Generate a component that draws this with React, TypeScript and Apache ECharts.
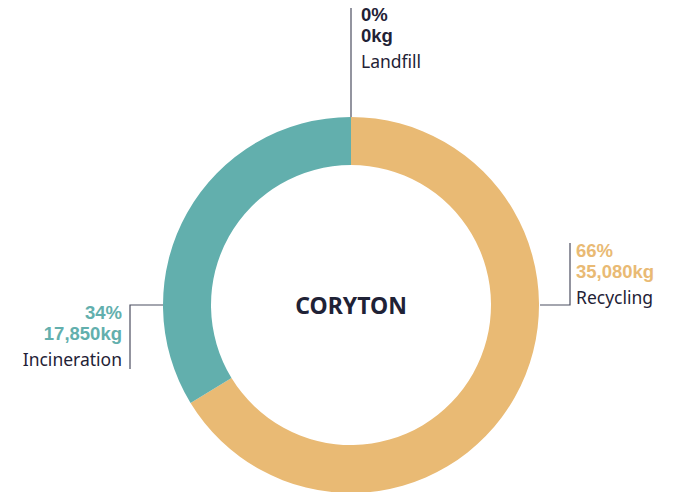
import React, { useEffect, useRef } from "react";
import * as echarts from "echarts";

const categories = ["Landfill", "Recycling", "Incineration"];
const valuesKg = [0, 35080, 17850];
const colors = ["#E9BA74", "#E9BA74", "#62AFAD"];
const centerTitle = "CORYTON";

const TEXT = "#1F2236";
const LINE = "#4B4E60";
const FONT = "Noto Sans";
const NUM_FONT = "Liberation Sans";

export default function App() {
  const ref = useRef<HTMLDivElement>(null);
  useEffect(() => {
    document.body.style.margin = "0";
    const chart = echarts.init(ref.current!, undefined, { renderer: "svg" });
    const data = categories.map((name, i) => ({
      name,
      value: valuesKg[i],
      itemStyle: { color: colors[i] },
      label: {
        rich: {
          p: { fontFamily: NUM_FONT, fontWeight: "bold", fontSize: 18.5, lineHeight: 21, color: i === 0 ? TEXT : colors[i] },
          v: { fontFamily: NUM_FONT, fontWeight: "bold", fontSize: 18.5, lineHeight: 21, color: i === 0 ? TEXT : colors[i] },
          n: { fontFamily: FONT, fontSize: 17.5, lineHeight: 21, color: TEXT, padding: [9, 0, 0, 0] },
        },
      },
    }));
    const layouts: Record<string, any> = {
      Landfill: { x: 361, y: 4, align: "left", verticalAlign: "top", labelLinePoints: [[351, 138], [351, 60], [351, 8]] },
      Recycling: { x: 576, y: 240, align: "left", verticalAlign: "top", labelLinePoints: [[540, 305], [570, 305], [570, 243]] },
      Incineration: { x: 122, y: 302, align: "right", verticalAlign: "top", labelLinePoints: [[163, 305], [130, 305], [130, 369]] },
    };
    chart.setOption({
      animation: false,
      series: [
        {
          type: "pie",
          center: [351, 305],
          radius: [140, 188],
          startAngle: 90,
          clockwise: true,
          minShowLabelAngle: 0,
          avoidLabelOverlap: false,
          silent: true,
          data,
          label: {
            show: true,
            formatter: (p: any) =>
              `{p|${Math.round(p.percent)}%}\n{v|${Number(p.value).toLocaleString("en-US")}kg}\n{n|${p.name}}`,
          },
          labelLine: { show: true, lineStyle: { color: LINE, width: 1.2 } },
          labelLayout: (params: any) => {
            const name = categories[params.dataIndex];
            return layouts[name];
          },
        },
      ],
      graphic: [
        {
          type: "text",
          x: 351,
          y: 305,
          style: {
            text: centerTitle,
            fontFamily: FONT,
            fontWeight: "bold",
            fontSize: 23,
            fill: TEXT,
            align: "center",
            verticalAlign: "middle",
          },
        },
      ],
    });
    return () => chart.dispose();
  }, []);
  return <div ref={ref} style={{ width: 675, height: 492 }} />;
}
